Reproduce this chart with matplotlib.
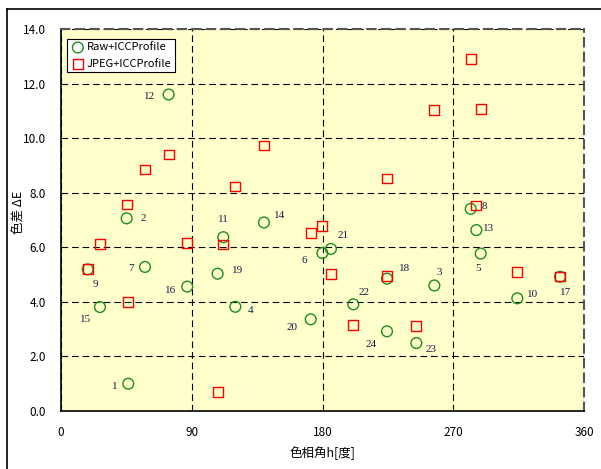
import matplotlib
matplotlib.use("Agg")
import matplotlib.pyplot as plt
from matplotlib.lines import Line2D

plt.rcParams['font.family'] = ['Noto Sans CJK JP', 'DejaVu Sans']

# patch number, hue angle h [deg], colour difference for each workflow
patch_no = [1, 2, 3, 4, 5, 6, 7, 8, 9, 10, 11, 12,
            13, 14, 15, 16, 17, 18, 19, 20, 21, 22, 23, 24]
hue = [46.3, 45.2, 257.0, 120.0, 288.9, 179.9, 57.8, 282.0, 18.4, 314.1, 111.7, 74.1,
       285.9, 139.7, 26.8, 86.9, 343.5, 224.4, 107.8, 171.9, 185.8, 201.2, 244.6, 224.4]
de_raw = [1.00, 7.06, 4.60, 3.82, 5.77, 5.79, 5.28, 7.41, 5.19, 4.13, 6.37, 11.60,
          6.63, 6.91, 3.81, 4.56, 4.92, 4.85, 5.03, 3.36, 5.94, 3.91, 2.49, 2.92]
de_jpeg = [3.98, 7.57, 11.04, 8.23, 11.07, 6.78, 8.85, 12.89, 5.19, 5.09, 6.10, 9.40,
           7.53, 9.73, 6.12, 6.16, 4.93, 4.95, 0.70, 6.53, 5.03, 3.15, 3.13, 8.52]

# label offsets from the circle, in pixels (x right, y up)
label_dx = [-13, 17, 5, 15, -3, -18, -14, 14, 8, 15, 0, -19,
            12, 16, -14, -17, 6, 18, 20, -19, 12, 11, 15, -16]
label_dy = [-3, 0, 13, -4, -15, -7, -2, 2, -15, 4, 18, -2,
            2, 7, -12, -4, -16, 10, 3, -8, 13, 12, -6, -13]

fig = plt.figure(figsize=(6.01, 4.69), dpi=100)
ax = fig.add_axes([61 / 601, 1 - 411 / 469, 523 / 601, 382 / 469])
ax.set_facecolor('#FFFFCC')

ax.scatter(hue, de_raw, s=60, marker='o', facecolors='none', edgecolors='#1E8C1E',
           linewidths=1.0, zorder=3, label='Raw+ICCProfile')
ax.scatter(hue, de_jpeg, s=50, marker='s', facecolors='none', edgecolors='#FF0000',
           linewidths=1.0, zorder=3, label='JPEG+ICCProfile')

for n, x, y, dx, dy in zip(patch_no, hue, de_raw, label_dx, label_dy):
    ax.annotate(str(n), (x, y), xytext=(dx, dy), textcoords='offset pixels',
                ha='center', va='center', fontsize=8, color='#1A1A4A',
                family='Liberation Serif', zorder=4)

ax.set_xlim(0, 360)
ax.set_ylim(0, 14)
ax.set_xticks([0, 90, 180, 270, 360])
ax.set_yticks([0, 2, 4, 6, 8, 10, 12, 14])
ax.set_yticklabels([f'{v:.1f}' for v in [0, 2, 4, 6, 8, 10, 12, 14]])
ax.tick_params(length=0, labelsize=8.5, pad=11)
ax.grid(True, color='black', linestyle=(0, (6, 3.5)), linewidth=0.8)
ax.set_axisbelow(True)

for side in ['left', 'bottom']:
    ax.spines[side].set_color('black')
    ax.spines[side].set_linewidth(1.2)
for side in ['top', 'right']:
    ax.spines[side].set_color('#555555')
    ax.spines[side].set_linestyle((0, (4, 3)))
    ax.spines[side].set_linewidth(1.5)

ax.set_xlabel('色相角h[度]', fontsize=9)
ax.set_ylabel('色差 ΔE', fontsize=9)
ax.xaxis.set_label_coords(0.5, -0.092)
ax.yaxis.set_label_coords(-0.067, 0.52)

leg = ax.legend(loc='upper left', bbox_to_anchor=(0.012, 0.975), fontsize=8,
                fancybox=False, framealpha=1, edgecolor='black', borderpad=0.35,
                handletextpad=0.2, labelspacing=0.55, handlelength=1.2,
                borderaxespad=0)
leg.get_frame().set_linewidth(0.8)

# outer frame (only top and left show in the original crop)
fig.add_artist(Line2D([7 / 601, 1], [1 - 9 / 469, 1 - 9 / 469], color='black', lw=1.2))
fig.add_artist(Line2D([7 / 601, 7 / 601], [0, 1 - 9 / 469], color='black', lw=1.2))

fig.savefig('out.png', dpi=100)
